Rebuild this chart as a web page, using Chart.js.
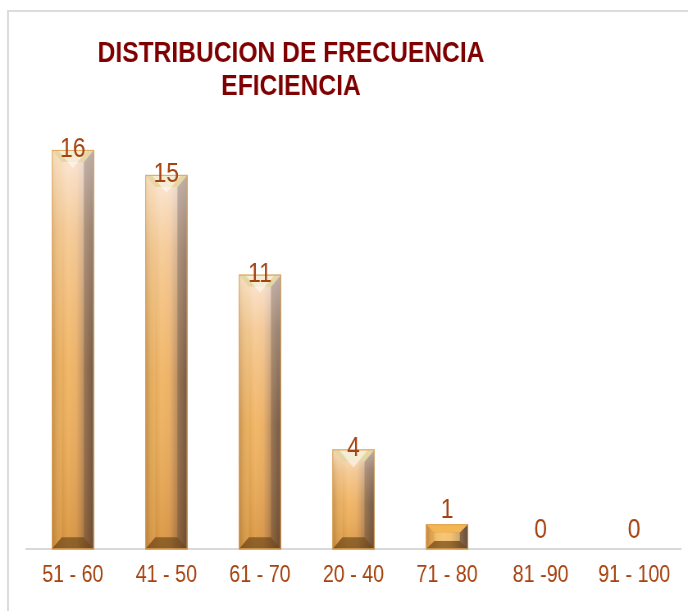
<!DOCTYPE html>
<html>
<head>
<meta charset="utf-8">
<title>Distribucion de frecuencia - Eficiencia</title>
<script src="https://cdn.jsdelivr.net/npm/chart.js@4/dist/chart.umd.min.js"></script>
<style>
  html, body { margin: 0; padding: 0; background: #fff; overflow: hidden; }
  #wrap { position: relative; width: 688px; height: 611px; overflow: hidden; }
  #frame {
    position: absolute; left: 7px; top: 10px; width: 720px; height: 640px;
    border-left: 2px solid #dcdcdc; border-top: 2px solid #dcdcdc;
  }
  /* the original uses a condensed face: draw wide, then squeeze */
  #chart { position: absolute; left: 0; top: 0; transform: scaleX(0.82); transform-origin: 0 0; }
</style>
</head>
<body>
<div id="wrap">
  <div id="frame"></div>
  <canvas id="chart"></canvas>
</div>
<script>
const categories = ['51 - 60', '41 - 50', '61 - 70', '20 - 40', '71 - 80', '81 -90', '91 - 100'];
const frequencies = [16, 15, 11, 4, 1, 0, 0];
const titleLines = ['DISTRIBUCION DE FRECUENCIA', 'EFICIENCIA'];

const squeeze = 0.82;
const fontFamily = '"Liberation Sans", Arial, sans-serif';
const labelColor = '#a5420f';

function strip(ctx, pts, fill) {
  ctx.fillStyle = fill;
  ctx.beginPath();
  ctx.moveTo(pts[0][0], pts[0][1]);
  for (let k = 1; k < pts.length; k++) ctx.lineTo(pts[k][0], pts[k][1]);
  ctx.closePath();
  ctx.fill();
}

// paints the golden bevelled look over each bar the library placed
const bevelPlugin = {
  id: 'bevel',
  afterDatasetsDraw(chart) {
    const ctx = chart.ctx;
    const meta = chart.getDatasetMeta(0);
    meta.data.forEach((bar) => {
      const left = bar.x - bar.width / 2;
      const right = bar.x + bar.width / 2;
      const top = bar.y;
      const bottom = bar.base;
      const h = bottom - top;
      if (h < 1) return;
      const tall = h > 40;
      const bv = Math.min(12, h / 3);      // vertical bevel depth
      const bh = Math.min(10, h / 3) / squeeze; // horizontal bevel width (canvas units)
      ctx.save();

      // body, left to right
      let g = ctx.createLinearGradient(left, 0, right, 0);
      g.addColorStop(0, '#a8702c');
      g.addColorStop(0.12, '#d69440');
      g.addColorStop(0.38, '#f0b25c');
      g.addColorStop(0.58, '#eaaa5c');
      g.addColorStop(0.8, '#a67c52');
      g.addColorStop(1, '#6e5440');
      ctx.fillStyle = g;
      ctx.fillRect(left, top, right - left, h);

      // paler top fading into the saturated bottom
      if (tall) {
        g = ctx.createLinearGradient(0, top, 0, bottom);
        g.addColorStop(0, 'rgba(255,246,246,0.8)');
        g.addColorStop(0.2, 'rgba(255,240,232,0.45)');
        g.addColorStop(0.55, 'rgba(255,232,205,0.12)');
        g.addColorStop(1, 'rgba(140,70,0,0.22)');
        ctx.fillStyle = g;
        ctx.fillRect(left, top, right - left, h);
      } else {
        ctx.fillStyle = 'rgba(255,225,150,0.45)';
        ctx.fillRect(left + bh, top + bv, right - left - 2 * bh, h - 2 * bv);
      }

      // side bevels
      strip(ctx, [[left, top], [left + bh, top + bv], [left + bh, bottom - bv], [left, bottom]],
        'rgba(255,215,140,0.22)');
      strip(ctx, [[right, top], [right - bh, top + bv], [right - bh, bottom - bv], [right, bottom]],
        'rgba(70,50,45,0.25)');

      // top bevel
      if (tall) {
        strip(ctx, [[left, top], [right, top], [right - bh, top + bv], [left + bh, top + bv]], '#e6d6a4');
        strip(ctx, [[left + bh * 0.7, top + 1], [right - bh * 0.7, top + 1], [bar.x, top + bv + 6]],
          'rgba(255,250,246,0.6)');
      } else {
        strip(ctx, [[left, top], [right, top], [right - bh, top + bv], [left + bh, top + bv]], '#f3b655');
      }

      // bottom bevel
      strip(ctx, [[left, bottom], [right, bottom], [right - bh, bottom - bv], [left + bh, bottom - bv]],
        'rgba(95,62,22,0.6)');

      // thin warm outline
      ctx.strokeStyle = 'rgba(225,165,85,0.9)';
      ctx.lineWidth = 1;
      ctx.strokeRect(left + 0.5, top + 0.5, right - left - 1, h - 1);
      ctx.restore();
    });

    // value labels
    ctx.save();
    ctx.font = '28px ' + fontFamily;
    ctx.fillStyle = labelColor;
    ctx.textAlign = 'center';
    ctx.textBaseline = 'alphabetic';
    meta.data.forEach((bar, i) => {
      const v = frequencies[i];
      const off = v >= 4 ? 7 : (v >= 1 ? -6 : -11);
      ctx.fillText(String(v), bar.x, bar.y + off);
    });
    ctx.restore();
  },
  afterDraw(chart) {
    const ctx = chart.ctx;
    ctx.save();
    ctx.font = 'bold 30px ' + fontFamily;
    ctx.fillStyle = '#7f0000';
    ctx.textAlign = 'center';
    ctx.textBaseline = 'alphabetic';
    ctx.fillText(titleLines[0], 291 / squeeze, 62);
    ctx.fillText(titleLines[1], 291 / squeeze, 95);
    ctx.restore();
  }
};

const canvas = document.getElementById('chart');
canvas.width = Math.round(688 / squeeze);
canvas.height = 611;

new Chart(canvas, {
  type: 'bar',
  data: {
    labels: categories,
    datasets: [{
      data: frequencies,
      backgroundColor: '#d9a25e',
      borderWidth: 0,
      barPercentage: 0.45,
      categoryPercentage: 1
    }]
  },
  options: {
    responsive: false,
    animation: false,
    layout: {
      padding: { top: 125, left: 26 / squeeze, right: 7 / squeeze, bottom: 9 }
    },
    plugins: {
      legend: { display: false },
      title: { display: false },
      tooltip: { enabled: false }
    },
    scales: {
      x: {
        grid: { display: false, drawTicks: false },
        border: { display: true, color: '#d9d9d9', width: 2 },
        ticks: {
          color: labelColor,
          padding: 12,
          maxRotation: 0,
          minRotation: 0,
          autoSkip: false,
          font: { size: 24, family: fontFamily }
        }
      },
      y: {
        display: false,
        min: 0,
        max: 17
      }
    }
  },
  plugins: [bevelPlugin]
});
</script>
</body>
</html>
